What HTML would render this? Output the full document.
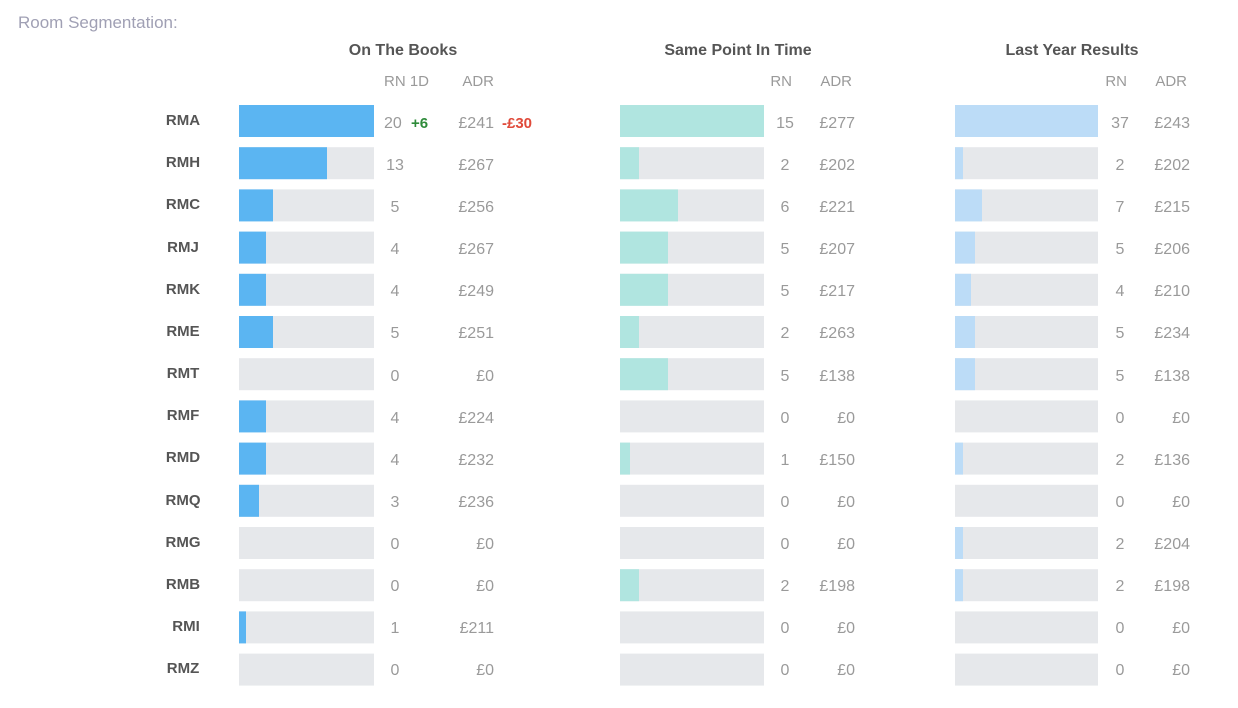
<!DOCTYPE html>
<html><head><meta charset="utf-8"><style>
html,body{margin:0;padding:0;background:#fff;}
svg{display:block;font-family:"Liberation Sans",sans-serif;}
.l{font-size:15px;font-weight:bold;fill:#555;text-anchor:middle;}
.v{font-size:16px;fill:#9a9a9a;}
.m{text-anchor:middle;}
.r{text-anchor:end;}
.h{font-size:16px;font-weight:bold;fill:#555;text-anchor:middle;}
.s{font-size:15px;fill:#9a9a9a;}
.bg{fill:#e6e8eb;}
.b1{fill:#5bb5f2;}
.b2{fill:#b0e5e0;}
.b3{fill:#bcdcf7;}
</style></head><body>
<svg width="1238" height="708" viewBox="0 0 1238 708">
<text x="18" y="28" style="font-size:17px;fill:#a0a0b4">Room Segmentation:</text>
<text class="h" x="403" y="55">On The Books</text>
<text class="h" x="738" y="55">Same Point In Time</text>
<text class="h" x="1072" y="55">Last Year Results</text>
<text class="s" x="384" y="86">RN 1D</text><text class="s r" x="494" y="86">ADR</text>
<text class="s r" x="792" y="86">RN</text><text class="s r" x="852" y="86">ADR</text>
<text class="s r" x="1127" y="86">RN</text><text class="s r" x="1187" y="86">ADR</text>

<!-- backgrounds -->
<g class="bg">
<rect x="239" y="105" width="135" height="32"/><rect x="620" y="105" width="144" height="32"/><rect x="955" y="105" width="143" height="32"/>
<rect x="239" y="147.2" width="135" height="32"/><rect x="620" y="147.2" width="144" height="32"/><rect x="955" y="147.2" width="143" height="32"/>
<rect x="239" y="189.4" width="135" height="32"/><rect x="620" y="189.4" width="144" height="32"/><rect x="955" y="189.4" width="143" height="32"/>
<rect x="239" y="231.6" width="135" height="32"/><rect x="620" y="231.6" width="144" height="32"/><rect x="955" y="231.6" width="143" height="32"/>
<rect x="239" y="273.8" width="135" height="32"/><rect x="620" y="273.8" width="144" height="32"/><rect x="955" y="273.8" width="143" height="32"/>
<rect x="239" y="316" width="135" height="32"/><rect x="620" y="316" width="144" height="32"/><rect x="955" y="316" width="143" height="32"/>
<rect x="239" y="358.2" width="135" height="32"/><rect x="620" y="358.2" width="144" height="32"/><rect x="955" y="358.2" width="143" height="32"/>
<rect x="239" y="400.4" width="135" height="32"/><rect x="620" y="400.4" width="144" height="32"/><rect x="955" y="400.4" width="143" height="32"/>
<rect x="239" y="442.6" width="135" height="32"/><rect x="620" y="442.6" width="144" height="32"/><rect x="955" y="442.6" width="143" height="32"/>
<rect x="239" y="484.8" width="135" height="32"/><rect x="620" y="484.8" width="144" height="32"/><rect x="955" y="484.8" width="143" height="32"/>
<rect x="239" y="527" width="135" height="32"/><rect x="620" y="527" width="144" height="32"/><rect x="955" y="527" width="143" height="32"/>
<rect x="239" y="569.2" width="135" height="32"/><rect x="620" y="569.2" width="144" height="32"/><rect x="955" y="569.2" width="143" height="32"/>
<rect x="239" y="611.4" width="135" height="32"/><rect x="620" y="611.4" width="144" height="32"/><rect x="955" y="611.4" width="143" height="32"/>
<rect x="239" y="653.6" width="135" height="32"/><rect x="620" y="653.6" width="144" height="32"/><rect x="955" y="653.6" width="143" height="32"/>
</g>
<!-- OTB fills -->
<g class="b1">
<rect x="239" y="105" width="135" height="32"/>
<rect x="239" y="147.2" width="88" height="32"/>
<rect x="239" y="189.4" width="34" height="32"/>
<rect x="239" y="231.6" width="27" height="32"/>
<rect x="239" y="273.8" width="27" height="32"/>
<rect x="239" y="316" width="34" height="32"/>
<rect x="239" y="400.4" width="27" height="32"/>
<rect x="239" y="442.6" width="27" height="32"/>
<rect x="239" y="484.8" width="20" height="32"/>
<rect x="239" y="611.4" width="7" height="32"/>
</g>
<g class="b2">
<rect x="620" y="105" width="144" height="32"/>
<rect x="620" y="147.2" width="19" height="32"/>
<rect x="620" y="189.4" width="58" height="32"/>
<rect x="620" y="231.6" width="48" height="32"/>
<rect x="620" y="273.8" width="48" height="32"/>
<rect x="620" y="316" width="19" height="32"/>
<rect x="620" y="358.2" width="48" height="32"/>
<rect x="620" y="442.6" width="10" height="32"/>
<rect x="620" y="569.2" width="19" height="32"/>
</g>
<g class="b3">
<rect x="955" y="105" width="143" height="32"/>
<rect x="955" y="147.2" width="8" height="32"/>
<rect x="955" y="189.4" width="27" height="32"/>
<rect x="955" y="231.6" width="20" height="32"/>
<rect x="955" y="273.8" width="16" height="32"/>
<rect x="955" y="316" width="20" height="32"/>
<rect x="955" y="358.2" width="20" height="32"/>
<rect x="955" y="442.6" width="8" height="32"/>
<rect x="955" y="527" width="8" height="32"/>
<rect x="955" y="569.2" width="8" height="32"/>
</g>

<!-- labels -->
<g class="l">
<text x="183" y="125">RMA</text><text x="183" y="167">RMH</text><text x="183" y="209">RMC</text>
<text x="183" y="252">RMJ</text><text x="183" y="294">RMK</text><text x="183" y="336">RME</text>
<text x="183" y="378">RMT</text><text x="183" y="420">RMF</text><text x="183" y="462">RMD</text>
<text x="183" y="505">RMQ</text><text x="183" y="547">RMG</text><text x="183" y="589">RMB</text>
<text x="186" y="631">RMI</text><text x="183" y="673">RMZ</text>
</g>

<!-- OTB values -->
<g class="v">
<text x="384" y="128">20</text>
<text class="m" x="395" y="170">13</text><text class="m" x="395" y="212">5</text><text class="m" x="395" y="254">4</text>
<text class="m" x="395" y="296">4</text><text class="m" x="395" y="338">5</text><text class="m" x="395" y="381">0</text>
<text class="m" x="395" y="423">4</text><text class="m" x="395" y="465">4</text><text class="m" x="395" y="507">3</text>
<text class="m" x="395" y="549">0</text><text class="m" x="395" y="591">0</text><text class="m" x="395" y="633">1</text>
<text class="m" x="395" y="675">0</text>
</g>
<text x="411" y="128" style="font-size:15px;font-weight:bold;fill:#2e8b3a">+6</text>
<text x="502" y="128" style="font-size:15px;font-weight:bold;fill:#e04a3a">-£30</text>
<g class="v r">
<text x="494" y="128">£241</text><text x="494" y="170">£267</text><text x="494" y="212">£256</text>
<text x="494" y="254">£267</text><text x="494" y="296">£249</text><text x="494" y="338">£251</text>
<text x="494" y="381">£0</text><text x="494" y="423">£224</text><text x="494" y="465">£232</text>
<text x="494" y="507">£236</text><text x="494" y="549">£0</text><text x="494" y="591">£0</text>
<text x="494" y="633">£211</text><text x="494" y="675">£0</text>
</g>

<!-- SPIT values -->
<g class="v m">
<text x="785" y="128">15</text><text x="785" y="170">2</text><text x="785" y="212">6</text>
<text x="785" y="254">5</text><text x="785" y="296">5</text><text x="785" y="338">2</text>
<text x="785" y="381">5</text><text x="785" y="423">0</text><text x="785" y="465">1</text>
<text x="785" y="507">0</text><text x="785" y="549">0</text><text x="785" y="591">2</text>
<text x="785" y="633">0</text><text x="785" y="675">0</text>
</g>
<g class="v r">
<text x="855" y="128">£277</text><text x="855" y="170">£202</text><text x="855" y="212">£221</text>
<text x="855" y="254">£207</text><text x="855" y="296">£217</text><text x="855" y="338">£263</text>
<text x="855" y="381">£138</text><text x="855" y="423">£0</text><text x="855" y="465">£150</text>
<text x="855" y="507">£0</text><text x="855" y="549">£0</text><text x="855" y="591">£198</text>
<text x="855" y="633">£0</text><text x="855" y="675">£0</text>
</g>

<!-- LY values -->
<g class="v m">
<text x="1120" y="128">37</text><text x="1120" y="170">2</text><text x="1120" y="212">7</text>
<text x="1120" y="254">5</text><text x="1120" y="296">4</text><text x="1120" y="338">5</text>
<text x="1120" y="381">5</text><text x="1120" y="423">0</text><text x="1120" y="465">2</text>
<text x="1120" y="507">0</text><text x="1120" y="549">2</text><text x="1120" y="591">2</text>
<text x="1120" y="633">0</text><text x="1120" y="675">0</text>
</g>
<g class="v r">
<text x="1190" y="128">£243</text><text x="1190" y="170">£202</text><text x="1190" y="212">£215</text>
<text x="1190" y="254">£206</text><text x="1190" y="296">£210</text><text x="1190" y="338">£234</text>
<text x="1190" y="381">£138</text><text x="1190" y="423">£0</text><text x="1190" y="465">£136</text>
<text x="1190" y="507">£0</text><text x="1190" y="549">£204</text><text x="1190" y="591">£198</text>
<text x="1190" y="633">£0</text><text x="1190" y="675">£0</text>
</g>
</svg>
</body></html>
